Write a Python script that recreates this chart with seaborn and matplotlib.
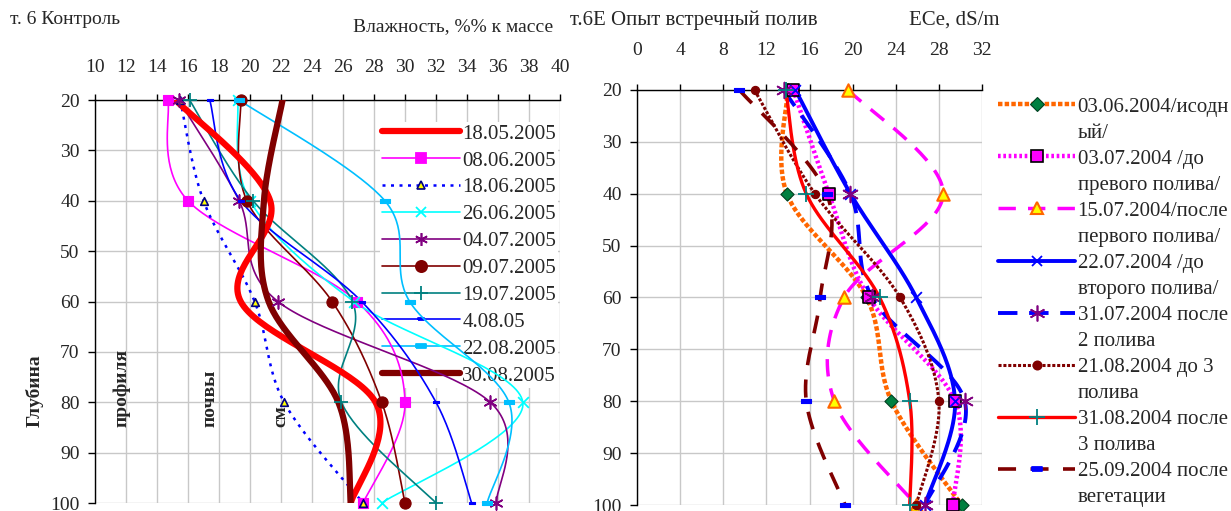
import numpy as np
import matplotlib
matplotlib.use("Agg")
import matplotlib.pyplot as plt
import seaborn as sns
from matplotlib.lines import Line2D

# ---------------- data ----------------
depths = [20, 40, 60, 80, 100]

left_labels = ["18.05.2005", "08.06.2005", "18.06.2005", "26.06.2005", "04.07.2005",
               "09.07.2005", "19.07.2005", "4.08.05", "22.08.2005", "30.08.2005"]
m_1805 = [15.2, 21.3, 19.4, 28.1, 26.5]
m_0806 = [14.7, 16.0, 26.9, 30.0, 27.3]
m_1806 = [15.5, 17.0, 20.3, 22.2, 27.3]
m_2606 = [19.2, 20.0, 26.7, 37.6, 28.5]
m_0407 = [15.4, 19.3, 21.8, 35.5, 35.9]
m_0907 = [19.4, 19.8, 25.3, 28.5, 30.0]
m_1907 = [16.1, 20.2, 26.6, 25.9, 32.0]
m_0408 = [17.4, 19.4, 27.2, 32.0, 34.3]
m_2208 = [19.3, 28.7, 30.3, 36.7, 35.3]
m_3008 = [22.1, 20.9, 21.2, 25.7, 26.5]

right_labels = [("03.06.2004/исодн", "ый/"),
                ("03.07.2004 /до", "превого полива/"),
                ("15.07.2004/после", "первого полива/"),
                ("22.07.2004 /до", "второго полива/"),
                ("31.07.2004 после", "2 полива"),
                ("21.08.2004 до 3", "полива"),
                ("31.08.2004 после", "3 полива"),
                ("25.09.2004 после", "вегетации")]
e_0306 = [14.0, 13.9, 21.3, 23.6, 30.1]
e_0307 = [14.5, 17.8, 21.5, 29.5, 29.3]
e_1507 = [19.6, 28.4, 19.2, 18.3, 25.9]
e_2207 = [14.7, 19.8, 25.9, 29.5, 26.7]
e_3107 = [13.6, 19.8, 21.8, 30.4, 26.7]
e_2108 = [10.9, 16.5, 24.4, 28.0, 25.9]
e_3108 = [13.8, 15.7, 22.5, 25.3, 25.3]
e_2509 = [9.5, 17.6, 17.0, 15.7, 19.3]

left_xticks = list(range(10, 41, 2))
right_xticks = list(range(0, 33, 4))
yticks = list(range(20, 101, 10))

# ---------------- style ----------------
sns.set_theme(style="white")
plt.rcParams['font.family'] = ['Liberation Serif', 'DejaVu Serif']
FS = 14

fig = plt.figure(figsize=(12.31, 5.11), dpi=100)
W, H = 1231, 511


def fx(px):
    return px / W


def fy(py):
    return 1 - py / H


axL = fig.add_axes([fx(95), fy(503), fx(560) - fx(95), fy(100) - fy(503)])
axR = fig.add_axes([fx(637), fy(505), fx(982) - fx(637), fy(90) - fy(505)])

rect_marker = [(-1.6, -0.6), (1.6, -0.6), (1.6, 0.6), (-1.6, 0.6), (-1.6, -0.6)]
ast = (6, 2, 0)


def smooth(xs, ys, n=40):
    P = np.column_stack([xs, ys]).astype(float)
    Pe = np.vstack([P[0], P, P[-1]])
    out = []
    for i in range(1, len(Pe) - 2):
        p0, p1, p2, p3 = Pe[i - 1], Pe[i], Pe[i + 1], Pe[i + 2]
        t = np.linspace(0, 1, n, endpoint=False)[:, None]
        seg = 0.5 * ((2 * p1) + (-p0 + p2) * t + (2 * p0 - 5 * p1 + 4 * p2 - p3) * t ** 2
                     + (-p0 + 3 * p1 - 3 * p2 + p3) * t ** 3)
        out.append(seg)
    out.append(P[-1][None, :])
    C = np.vstack(out)
    return C[:, 0], C[:, 1]


def draw(ax, vals, st):
    cx, cy = smooth(vals, depths)
    sns.lineplot(x=cx, y=cy, ax=ax, sort=False, estimator=None, color=st['c'],
                 linewidth=st['lw'], linestyle=st.get('ls', '-'), zorder=st.get('z', 3))
    if st.get('m'):
        m = st['m']
        kw = dict(marker=m, s=st.get('s', 50), zorder=6, clip_on=False, legend=False)
        if m in ('x', '+', ast):
            kw.update(color=st.get('mfc', st['c']), linewidth=st.get('mew', 1.3))
        else:
            kw.update(color=st.get('mfc', st['c']), edgecolor=st.get('mec', st.get('mfc', st['c'])),
                      linewidth=st.get('mew', 0.8))
        sns.scatterplot(x=vals, y=depths, ax=ax, **kw)


def handle(st):
    m = st.get('m')
    ms = np.sqrt(st.get('s', 50)) if m else 0
    return Line2D([0], [0], color=st['c'], lw=st['lw'], linestyle=st.get('ls', '-'),
                  marker=m if m else None, markersize=ms,
                  markerfacecolor=st.get('mfc', st['c']),
                  markeredgecolor=st.get('mec', st.get('mfc', st['c'])),
                  markeredgewidth=st.get('mew', 1.3))


# ---------------- left panel ----------------
left_series = [m_1805, m_0806, m_1806, m_2606, m_0407, m_0907, m_1907, m_0408, m_2208, m_3008]
left_styles = [
    dict(c='#FF0000', lw=4.5, z=4),
    dict(c='#FF00FF', lw=1.2, m='s', s=60),
    dict(c='#0000FF', lw=1.8, ls=(0, (1.2, 2.2)), m='^', s=30, mfc='#FFFF00', mec='#000080', mew=1.2),
    dict(c='#00FFFF', lw=1.2, m='x', s=60),
    dict(c='#800080', lw=1.2, m=ast, s=85, mew=1.2),
    dict(c='#800000', lw=1.2, m='o', s=65),
    dict(c='#008080', lw=1.2, m='+', s=90),
    dict(c='#0000FF', lw=1.2, m=rect_marker, s=25),
    dict(c='#00BFFF', lw=1.2, m=rect_marker, s=45),
    dict(c='#800000', lw=4.5, z=4),
]
for vals, st in zip(left_series, left_styles):
    draw(axL, vals, st)

# ---------------- right panel ----------------
right_series = [e_0306, e_0307, e_1507, e_2207, e_3107, e_2108, e_3108, e_2509]
right_styles = [
    dict(c='#FF6600', lw=3.2, ls=(0, (1.0, 0.5)), m='D', s=45, mfc='#008040', mec='#004020', mew=0.8),
    dict(c='#FF00FF', lw=3.2, ls=(0, (0.6, 0.6)), m='s', s=70, mfc='#FF00FF', mec='#000000', mew=1.2),
    dict(c='#FF00FF', lw=2.5, ls=(0, (5, 3.5)), m='^', s=80, mfc='#FFFF00', mec='#FF6600', mew=1.5),
    dict(c='#0000FF', lw=2.8, m='x', s=60, mew=1.3),
    dict(c='#0000FF', lw=2.8, ls=(0, (5, 3)), m=ast, s=130, mfc='#800080', mew=1.2),
    dict(c='#800000', lw=2.2, ls=(0, (1.0, 0.6)), m='o', s=35),
    dict(c='#FF0000', lw=2.4, m='+', s=130, mfc='#008080', mew=1.3),
    dict(c='#800000', lw=2.6, ls=(0, (5, 4)), m=rect_marker, s=45, mfc='#0000FF'),
]
for vals, st in zip(right_series, right_styles):
    draw(axR, vals, st)

# ---------------- axes formatting ----------------
for ax, xt, xlim, xpad in ((axL, left_xticks, (10, 40), 13), (axR, right_xticks, (0, 32), 18)):
    ax.set_xlim(*xlim)
    ax.set_ylim(100, 20)
    ax.set_xticks(xt)
    ax.set_yticks(yticks)
    ax.set_xticklabels([str(v) for v in xt])
    ax.set_yticklabels([str(v) for v in yticks])
    ax.xaxis.tick_top()
    ax.tick_params(axis='x', which='both', top=True, bottom=False, labeltop=True, labelbottom=False,
                   direction='out', length=4, width=1, color='#000000', labelsize=FS, pad=xpad)
    ax.tick_params(axis='y', left=True, direction='out', length=5, width=1, color='#000000',
                   labelsize=FS, pad=6)
    ax.grid(True, color='#C8C8C8', linewidth=1.0)
    ax.set_axisbelow(True)
    for s in ('right', 'bottom'):
        ax.spines[s].set_visible(False)
    for s in ('top', 'left'):
        ax.spines[s].set_color('#000000')
        ax.spines[s].set_linewidth(1.0)
    ax.set_xlabel('')
    ax.set_ylabel('')
    ax.patch.set_alpha(0)

# left legend
lh = [handle(st) for st in left_styles]
legL = axL.legend(lh, left_labels, loc='upper left', bbox_to_anchor=(fx(380), fy(122)),
                  bbox_transform=fig.transFigure, frameon=True, facecolor='white', edgecolor='none',
                  framealpha=1, fontsize=FS + 1, handlelength=3.75, handletextpad=0.1,
                  labelspacing=0.35, borderpad=0.1, borderaxespad=0, fancybox=False)
legL.set_zorder(2)

# right legend: each entry on two text rows, handle on first row
rh, rl = [], []
blank = Line2D([0], [0], linestyle='none', marker=None)
for st, (l1, l2) in zip(right_styles, right_labels):
    rh.append(handle(st))
    rl.append(l1)
    rh.append(blank)
    rl.append(l2)
legR = fig.legend(rh, rl, loc='upper left', bbox_to_anchor=(fx(998), fy(97)),
                  frameon=False, fontsize=FS + 1, handlelength=3.7, handletextpad=0.12,
                  labelspacing=0.31, borderpad=0, borderaxespad=0)

# ---------------- texts ----------------
fig.text(fx(10), fy(20), "т. 6 Контроль", fontsize=FS, ha='left', va='center')
fig.text(fx(553), fy(27), "Влажность, %% к массе", fontsize=FS, ha='right', va='center')
fig.text(fx(570), fy(20), "т.6Е Опыт встречный полив", fontsize=FS + 1, ha='left', va='center')
fig.text(fx(1000), fy(20), "ECe, dS/m", fontsize=FS + 1, ha='right', va='center')
for x, t in ((35, "Глубина"), (122, "профиля"), (210, "почвы"), (281, "см")):
    fig.text(fx(x), fy(427), t, fontsize=FS, fontweight='bold', rotation=90,
             ha='center', va='bottom')

fig.savefig("out.png", dpi=100)
